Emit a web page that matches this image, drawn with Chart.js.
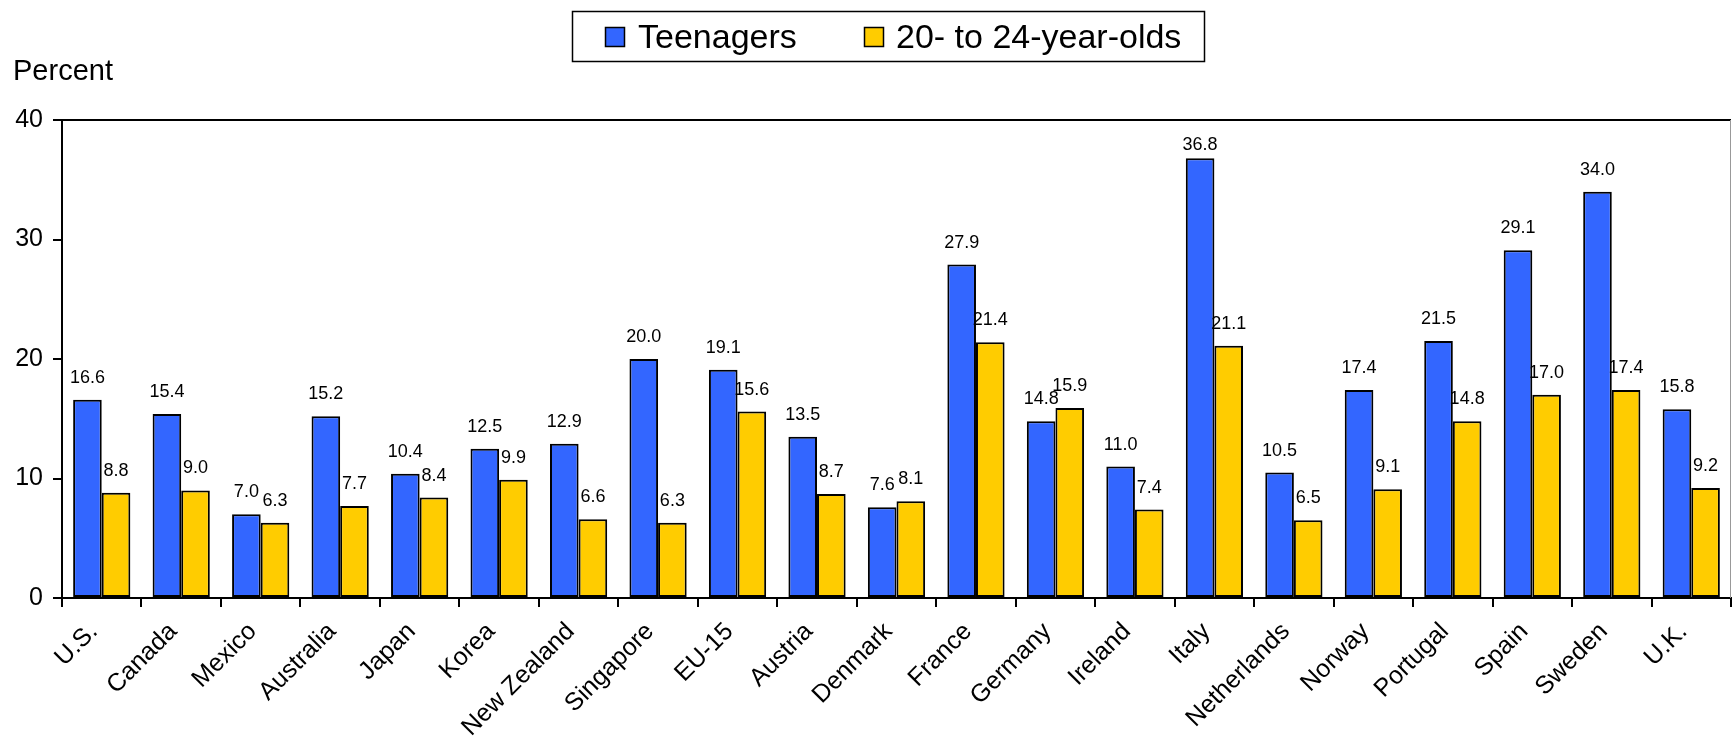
<!DOCTYPE html>
<html lang="en">
<head>
    <meta charset="UTF-8">
    <title>Unemployment rates, teenagers and 20- to 24-year-olds</title>
    <script src="https://cdn.jsdelivr.net/npm/chart.js@4/dist/chart.umd.min.js"></script>
    <style>
        * {
            margin: 0;
            padding: 0;
            box-sizing: border-box;
        }

        body {
            background: #ffffff;
            width: 1732px;
            height: 745px;
            overflow: hidden;
        }

        canvas {
            display: block;
        }
    </style>
</head>
<body>
    <canvas id="chart" width="1732" height="745"></canvas>

    <script>
        // data
        const countries = ['U.S.', 'Canada', 'Mexico', 'Australia', 'Japan', 'Korea', 'New Zealand',
            'Singapore', 'EU-15', 'Austria', 'Denmark', 'France', 'Germany', 'Ireland', 'Italy',
            'Netherlands', 'Norway', 'Portugal', 'Spain', 'Sweden', 'U.K.'];
        const teenagers = [16.6, 15.4, 7.0, 15.2, 10.4, 12.5, 12.9, 20.0, 19.1, 13.5, 7.6,
            27.9, 14.8, 11.0, 36.8, 10.5, 17.4, 21.5, 29.1, 34.0, 15.8];
        const young = [8.8, 9.0, 6.3, 7.7, 8.4, 9.9, 6.6, 6.3, 15.6, 8.7, 8.1,
            21.4, 15.9, 7.4, 21.1, 6.5, 9.1, 14.8, 17.0, 17.4, 9.2];
        const yTicks = [0, 10, 20, 30, 40];
        const seriesNames = ['Teenagers', '20- to 24-year-olds'];
        const seriesColors = ['#3366FF', '#FFCC00'];

        const FONT = "'Liberation Sans', Arial, sans-serif";

        // value labels above each bar (kept inside the plot, like Excel does)
        const valueLabels = {
            id: 'valueLabels',
            afterDatasetsDraw(chart) {
                const ctx = chart.ctx;
                const top = chart.chartArea.top;
                ctx.save();
                ctx.font = '18px ' + FONT;
                ctx.fillStyle = '#000';
                ctx.textAlign = 'center';
                ctx.textBaseline = 'alphabetic';
                chart.data.datasets.forEach((ds, i) => {
                    chart.getDatasetMeta(i).data.forEach((bar, j) => {
                        const y = Math.max(bar.y - 17, top + 30);
                        ctx.fillText(ds.data[j].toFixed(1), bar.x, y);
                    });
                });
                ctx.restore();
            }
        };

        // plot frame, boxed legend and the "Percent" caption
        const decorations = {
            id: 'decorations',
            beforeDatasetsDraw(chart) {
                const { ctx, chartArea: a } = chart;
                ctx.save();
                ctx.strokeStyle = '#000';
                ctx.lineWidth = 2;
                ctx.beginPath();
                ctx.moveTo(a.left, a.top);
                ctx.lineTo(a.right, a.top);
                ctx.stroke();
                ctx.strokeStyle = '#999';
                ctx.lineWidth = 1;
                ctx.beginPath();
                ctx.moveTo(a.right - 0.5, a.top);
                ctx.lineTo(a.right - 0.5, a.bottom);
                ctx.stroke();
                ctx.restore();
            },
            afterDraw(chart) {
                const ctx = chart.ctx;
                ctx.save();
                ctx.font = '29px ' + FONT;
                ctx.fillStyle = '#000';
                ctx.textBaseline = 'alphabetic';
                ctx.fillText('Percent', 13, 80);

                // legend box
                ctx.strokeStyle = '#000';
                ctx.lineWidth = 1.5;
                ctx.strokeRect(572.5, 11.5, 632, 50);

                const items = [{ box: 605.5, text: 638 }, { box: 864.5, text: 896 }];
                ctx.font = '34px ' + FONT;
                ctx.textBaseline = 'middle';
                items.forEach((it, i) => {
                    ctx.fillStyle = seriesColors[i];
                    ctx.fillRect(it.box, 27.5, 19, 19);
                    ctx.strokeRect(it.box, 27.5, 19, 19);
                    ctx.fillStyle = '#000';
                    ctx.fillText(seriesNames[i], it.text, 39);
                });
                ctx.restore();
            }
        };

        const config = {
            type: 'bar',
            data: {
                labels: countries,
                datasets: [
                    {
                        label: seriesNames[0],
                        data: teenagers,
                        backgroundColor: seriesColors[0],
                        borderColor: '#000',
                        borderWidth: 2,
                        borderSkipped: false,
                        categoryPercentage: 0.72,
                        barPercentage: 1.0
                    },
                    {
                        label: seriesNames[1],
                        data: young,
                        backgroundColor: seriesColors[1],
                        borderColor: '#000',
                        borderWidth: 2,
                        borderSkipped: false,
                        categoryPercentage: 0.72,
                        barPercentage: 1.0
                    }
                ]
            },
            options: {
                responsive: false,
                animation: false,
                devicePixelRatio: 1,
                layout: {
                    padding: { top: 120, right: 1, bottom: 0, left: 0 }
                },
                plugins: {
                    legend: { display: false },
                    tooltip: { enabled: false }
                },
                scales: {
                    x: {
                        afterFit(scale) { scale.height = 147; },
                        grid: {
                            offset: true,
                            drawOnChartArea: false,
                            drawTicks: true,
                            tickLength: 9,
                            color: '#000',
                            lineWidth: 2
                        },
                        border: { color: '#000', width: 2 },
                        ticks: {
                            color: '#000',
                            font: { family: FONT, size: 25 },
                            maxRotation: 45,
                            minRotation: 45,
                            padding: 10,
                            labelOffset: -8,
                            autoSkip: false
                        }
                    },
                    y: {
                        min: yTicks[0],
                        max: yTicks[yTicks.length - 1],
                        afterFit(scale) { scale.width = 62; },
                        afterBuildTicks(scale) {
                            scale.ticks = yTicks.map(v => ({ value: v }));
                        },
                        grid: {
                            drawOnChartArea: false,
                            drawTicks: true,
                            tickLength: 9,
                            color: '#000',
                            lineWidth: 2
                        },
                        border: { color: '#000', width: 2 },
                        ticks: {
                            color: '#000',
                            font: { family: FONT, size: 25 },
                            padding: 10
                        }
                    }
                }
            },
            plugins: [valueLabels, decorations]
        };

        const ctx = document.getElementById('chart').getContext('2d');
        const chart = new Chart(ctx, config);
    </script>
</body>
</html>
